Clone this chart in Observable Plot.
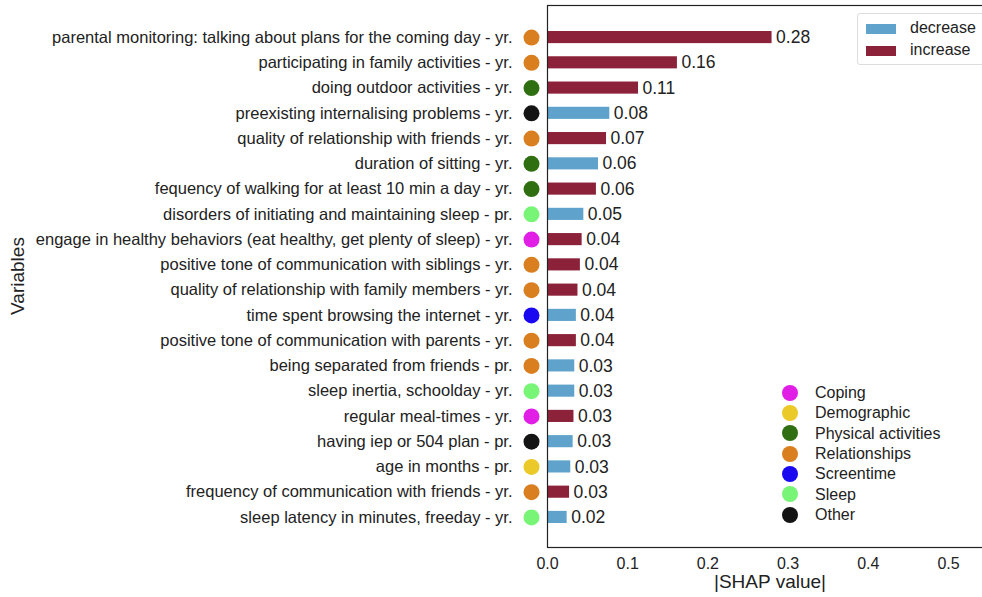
<!DOCTYPE html>
<html>
<head>
<meta charset="utf-8">
<script src="https://cdn.jsdelivr.net/npm/d3@7"></script>
<script src="https://cdn.jsdelivr.net/npm/@observablehq/plot@0.6"></script>
<style>
  html, body { margin: 0; padding: 0; background: #fff; overflow: hidden; }
  #wrap { position: relative; width: 982px; height: 597px; overflow: hidden; font-family: "Liberation Sans", Arial, sans-serif; color: #222; }
  #chart { position: absolute; left: 0; top: 0; }
  #chart svg { max-width: none !important; }
  .leg { position: absolute; font-size: 16px; color: #222; }
  #dirleg { left: 857px; top: 13px; width: 140px; height: 50px; border: 1px solid #ddd; border-radius: 3px; background: #fff; }
  #dirleg .row { position: absolute; left: 8px; height: 20px; line-height: 20px; }
  #dirleg .sw { display: inline-block; width: 30px; height: 10px; vertical-align: middle; margin-right: 14px; }
  #catleg .row { position: absolute; left: 0; height: 20px; line-height: 20px; white-space: nowrap; }
  #catleg .dot { display: inline-block; width: 16px; height: 16px; border-radius: 50%; vertical-align: middle; margin-right: 17px; position: relative; top: -1px; }
</style>
</head>
<body>
<div id="wrap">
  <div id="chart"></div>
  <div id="dirleg" class="leg"></div>
  <div id="catleg" class="leg" style="left:782px; top:383px;"></div>
</div>
<script>
const variables = [
  "parental monitoring: talking about plans for the coming day - yr.",
  "participating in family activities - yr.",
  "doing outdoor activities - yr.",
  "preexisting internalising problems - yr.",
  "quality of relationship with friends - yr.",
  "duration of sitting - yr.",
  "fequency of walking for at least 10 min a day - yr.",
  "disorders of initiating and maintaining sleep - pr.",
  "engage in healthy behaviors (eat healthy, get plenty of sleep) - yr.",
  "positive tone of communication with siblings - yr.",
  "quality of relationship with family members - yr.",
  "time spent browsing the internet - yr.",
  "positive tone of communication with parents - yr.",
  "being separated from friends - pr.",
  "sleep inertia, schoolday - yr.",
  "regular meal-times - yr.",
  "having iep or 504 plan - pr.",
  "age in months - pr.",
  "frequency of communication with friends - yr.",
  "sleep latency in minutes, freeday - yr."
];
const shapValues = [0.280, 0.162, 0.1135, 0.0777, 0.0736, 0.0636, 0.061, 0.0453, 0.0432, 0.041,
                    0.038, 0.036, 0.036, 0.034, 0.034, 0.033, 0.032, 0.029, 0.0275, 0.0245];
const directions = ["increase","increase","increase","decrease","increase","decrease","increase","decrease","increase","increase",
                    "increase","decrease","increase","decrease","decrease","increase","decrease","decrease","increase","decrease"];
const categories = ["Relationships","Relationships","Physical activities","Other","Relationships","Physical activities","Physical activities","Sleep","Coping","Relationships",
                    "Relationships","Screentime","Relationships","Relationships","Sleep","Coping","Other","Demographic","Relationships","Sleep"];
const directionNames = ["decrease", "increase"];
const directionColors = ["#5fa3cc", "#8c2239"];
const categoryNames = ["Coping","Demographic","Physical activities","Relationships","Screentime","Sleep","Other"];
const categoryColors = ["#e01ee6","#ebc928","#2f6f12","#da7f20","#1a08f0","#78f577","#141414"];
const xTicks = [0, 0.1, 0.2, 0.3, 0.4, 0.5];

const data = variables.map((v, i) => ({variable: v, value: shapValues[i], direction: directions[i], category: categories[i]}));
const dirColor = d3.scaleOrdinal(directionNames, directionColors);
const catColor = d3.scaleOrdinal(categoryNames, categoryColors);

const W = 1000, H = 597, ML = 547, MT = 5, MB = 50, MR = 0;
const pxPerUnit = 802;
const xMax = (W - ML - MR) / pxPerUnit;

const chart = Plot.plot({
  width: W, height: H,
  marginLeft: ML, marginRight: MR, marginTop: MT, marginBottom: MB,
  style: {fontFamily: "'Liberation Sans', Arial, sans-serif", color: "#222", background: "#fff", maxWidth: "none"},
  x: {domain: [0, xMax], ticks: xTicks, tickFormat: d3.format(".1f")},
  y: {domain: variables, paddingInner: 0.52, paddingOuter: 0.99, align: 0.52, round: false},
  marks: [
    Plot.barX(data, {x: "value", y: "variable", fill: d => dirColor(d.direction)}),
    Plot.text(data, {x: "value", y: "variable", text: d => d3.format(".2f")(d.value), textAnchor: "start", dx: 4, fontSize: 17.5, fill: "#222"}),
    Plot.dot(data, {x: 0, y: "variable", dx: -16, r: 8, fill: d => catColor(d.category), stroke: "none"}),
    Plot.axisX({ticks: xTicks, tickFormat: d3.format(".1f"), tickSize: 0, tickPadding: 10, fontSize: 16, label: null}),
    Plot.axisY({tickSize: 0, tickPadding: 35, fontSize: 16.5, label: null}),
    Plot.frame({stroke: "#222", strokeWidth: 1.2})
  ]
});
chart.style.maxWidth = "none";
const svg = d3.select(chart);
svg.append("text").attr("x", 770).attr("y", 588).attr("text-anchor", "middle")
  .attr("font-size", 19).attr("fill", "#222").text("|SHAP value|");
svg.append("text").attr("transform", "translate(24,276) rotate(-90)").attr("text-anchor", "middle")
  .attr("font-size", 19).attr("fill", "#222").text("Variables");
document.getElementById("chart").appendChild(chart);

const dirleg = document.getElementById("dirleg");
directionNames.forEach((n, i) => {
  const r = document.createElement("div");
  r.className = "row";
  r.style.top = (4 + i * 22) + "px";
  r.innerHTML = `<span class="sw" style="background:${directionColors[i]}"></span>${n}`;
  dirleg.appendChild(r);
});
const catleg = document.getElementById("catleg");
categoryNames.forEach((n, i) => {
  const r = document.createElement("div");
  r.className = "row";
  r.style.top = (i * 20.3) + "px";
  r.innerHTML = `<span class="dot" style="background:${categoryColors[i]}"></span>${n}`;
  catleg.appendChild(r);
});
</script>
</body>
</html>
